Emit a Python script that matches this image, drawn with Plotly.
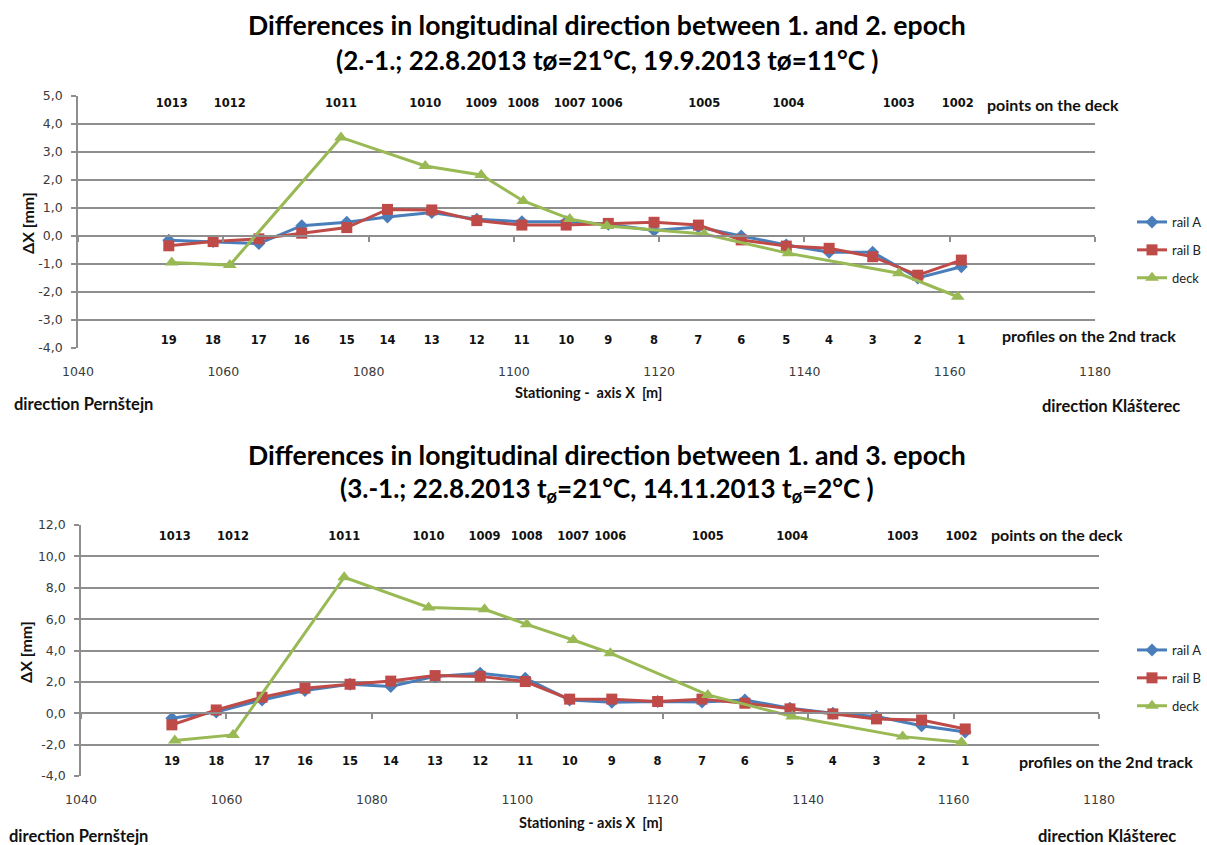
import plotly.graph_objects as go

W, H = 1207, 845

# ---------------- data ----------------
profile_labels = ["19", "18", "17", "16", "15", "14", "13", "12", "11", "10",
                  "9", "8", "7", "6", "5", "4", "3", "2", "1"]
profile_x = [1052.5, 1058.6, 1064.9, 1070.8, 1077.0, 1082.6, 1088.7, 1094.9,
             1101.1, 1107.2, 1113.0, 1119.3, 1125.4, 1131.3, 1137.5, 1143.4,
             1149.4, 1155.6, 1161.6]
deck_labels = ["1013", "1012", "1011", "1010", "1009", "1008", "1007", "1006",
               "1005", "1004", "1003", "1002"]
deck_x = [1052.9, 1060.9, 1076.2, 1087.8, 1095.5, 1101.3, 1107.7, 1112.8,
          1126.2, 1137.8, 1153.0, 1161.1]

# epoch 2 - epoch 1
e2_railA = [-0.15, -0.2, -0.27, 0.37, 0.49, 0.68, 0.84, 0.6, 0.51, 0.51,
            0.42, 0.2, 0.32, 0.0, -0.32, -0.58, -0.58, -1.5, -1.1]
e2_railB = [-0.35, -0.2, -0.1, 0.1, 0.3, 0.95, 0.93, 0.55, 0.39, 0.39,
            0.45, 0.49, 0.39, -0.14, -0.36, -0.44, -0.74, -1.4, -0.86]
e2_deck = [-0.95, -1.04, 3.52, 2.5, 2.18, 1.25, 0.61, 0.36, 0.07, -0.62,
           -1.33, -2.17]

# epoch 3 - epoch 1
e3_railA = [-0.32, 0.08, 0.85, 1.45, 1.85, 1.7, 2.35, 2.55, 2.23, 0.85,
            0.7, 0.75, 0.72, 0.85, 0.32, 0.0, -0.21, -0.8, -1.2]
e3_railB = [-0.74, 0.21, 1.02, 1.6, 1.85, 2.05, 2.4, 2.35, 2.02, 0.9,
            0.9, 0.75, 0.9, 0.64, 0.28, -0.04, -0.36, -0.43, -1.0]
e3_deck = [-1.74, -1.38, 8.67, 6.74, 6.63, 5.67, 4.67, 3.83, 1.17, -0.21,
           -1.49, -1.85]

x_tickvals = [1040, 1060, 1080, 1100, 1120, 1140, 1160, 1180]
x_ticktext = ["1040", "1060", "1080", "1100", "1120", "1140", "1160", "1180"]
y1_tickvals = [-4, -3, -2, -1, 0, 1, 2, 3, 4, 5]
y1_ticktext = ["-4,0", "-3,0", "-2,0", "-1,0", "0,0", "1,0", "2,0", "3,0", "4,0", "5,0"]
y2_tickvals = [-4, -2, 0, 2, 4, 6, 8, 10, 12]
y2_ticktext = ["-4,0", "-2,0", "0,0", "2,0", "4,0", "6,0", "8,0", "10,0", "12,0"]

title1 = ["Differences in longitudinal direction between 1. and 2. epoch",
          "(2.-1.; 22.8.2013 tø=21°C, 19.9.2013 tø=11°C )"]
title2 = ["Differences in longitudinal direction between 1. and 3. epoch",
          "(3.-1.; 22.8.2013 t<sub>ø</sub>=21°C, 14.11.2013 t<sub>ø</sub>=2°C )"]

# ---------------- style ----------------
C_A, C_B, C_D = "#4A7EBB", "#BE4B48", "#98B954"
GRID = "#8E8E8E"
TICKC = "#3a3a3a"
CAL = "Lato, Carlito, sans-serif"
VER = "DejaVu Sans, Verdana, sans-serif"


def px_x(p):
    return p / W


def px_y(p):
    return 1 - p / H


fig = go.Figure()

panels = [
    dict(xa="x", ya="y", xz="x3", leg="legend", A=e2_railA, B=e2_railB, D=e2_deck,
         ptop=4.7, pbot=-3.75),
    dict(xa="x2", ya="y2", xz="x4", leg="legend2", A=e3_railA, B=e3_railB, D=e3_deck,
         ptop=11.2, pbot=-3.1),
]

for p in panels:
    # helper (invisible) trace for the zero-line axis
    fig.add_trace(go.Scatter(x=profile_x, y=p["A"], xaxis=p["xz"], yaxis=p["ya"],
                             mode="lines", line=dict(width=0), opacity=0,
                             showlegend=False, hoverinfo="skip"))
    fig.add_trace(go.Scatter(x=profile_x, y=p["A"], xaxis=p["xa"], yaxis=p["ya"],
                             name="rail A", legend=p["leg"], legendgroup="a",
                             mode="lines+markers",
                             line=dict(color=C_A, width=3),
                             marker=dict(symbol="diamond", size=10, color=C_A)))
    fig.add_trace(go.Scatter(x=profile_x, y=p["B"], xaxis=p["xa"], yaxis=p["ya"],
                             name="rail B", legend=p["leg"], legendgroup="b",
                             mode="lines+markers",
                             line=dict(color=C_B, width=3),
                             marker=dict(symbol="square", size=11, color=C_B)))
    fig.add_trace(go.Scatter(x=deck_x, y=p["D"], xaxis=p["xa"], yaxis=p["ya"],
                             name="deck", legend=p["leg"], legendgroup="d",
                             mode="lines+markers",
                             line=dict(color=C_D, width=3),
                             marker=dict(symbol="triangle-up", size=12, color=C_D)))
    # point labels (deck) and profile labels (track)
    fig.add_trace(go.Scatter(x=deck_x, y=[p["ptop"]] * len(deck_x),
                             xaxis=p["xa"], yaxis=p["ya"], mode="text",
                             text=deck_labels, showlegend=False, hoverinfo="skip",
                             textfont=dict(family=VER, size=11.5, color="#111",
                                           weight="bold")))
    fig.add_trace(go.Scatter(x=profile_x, y=[p["pbot"]] * len(profile_x),
                             xaxis=p["xa"], yaxis=p["ya"], mode="text",
                             text=profile_labels, showlegend=False, hoverinfo="skip",
                             textfont=dict(family=VER, size=11.5, color="#111",
                                           weight="bold")))

# domains (pixel based)
dom = [
    dict(x0=78, x1=1095, y0=348, y1=96, ymin=-4, ymax=5),
    dict(x0=81, x1=1099, y0=776, y1=525, ymin=-4, ymax=12),
]

axis_common_x = dict(range=[1040, 1180], tickvals=x_tickvals, ticktext=x_ticktext,
                     showgrid=False, zeroline=False, showline=False, automargin=False,
                     ticks="outside", ticklen=12, tickcolor="rgba(0,0,0,0)",
                     tickfont=dict(family=VER, size=12.5, color=TICKC))


def yaxis_cfg(d, tv, tt):
    return dict(domain=[px_y(d["y0"]), px_y(d["y1"])], range=[d["ymin"], d["ymax"]],
                tickvals=tv, ticktext=tt, showgrid=True, gridcolor=GRID, gridwidth=1.5,
                zeroline=False, showline=True, linecolor=GRID, linewidth=1.5,
                ticks="outside", ticklen=5, tickcolor=GRID, tickwidth=1.5,
                ticklabelstandoff=6, automargin=False,
                tickfont=dict(family=VER, size=12.5, color=TICKC))


def zero_axis(d, over):
    yd0, yd1 = px_y(d["y0"]), px_y(d["y1"])
    pos = yd0 + (0 - d["ymin"]) / (d["ymax"] - d["ymin"]) * (yd1 - yd0)
    return dict(overlaying=over, anchor="free", position=pos, automargin=False,
                domain=[px_x(d["x0"]), px_x(d["x1"])],
                range=[1040, 1180], tickvals=x_tickvals, showticklabels=False,
                ticks="outside", ticklen=5, tickcolor=GRID, tickwidth=1.5,
                showline=True, linecolor=GRID, linewidth=1.5,
                showgrid=False, zeroline=False)


fig.update_layout(
    width=W, height=H, margin=dict(l=0, r=0, t=0, b=0, autoexpand=False),
    paper_bgcolor="white", plot_bgcolor="white",
    xaxis=dict(domain=[px_x(dom[0]["x0"]), px_x(dom[0]["x1"])], anchor="y", **axis_common_x),
    yaxis=dict(anchor="x", **yaxis_cfg(dom[0], y1_tickvals, y1_ticktext)),
    xaxis2=dict(domain=[px_x(dom[1]["x0"]), px_x(dom[1]["x1"])], anchor="y2", **axis_common_x),
    yaxis2=dict(anchor="x2", **yaxis_cfg(dom[1], y2_tickvals, y2_ticktext)),
    xaxis3=zero_axis(dom[0], "x"),
    xaxis4=zero_axis(dom[1], "x2"),
    legend=dict(x=1.0, y=px_y(207), xanchor="right", yanchor="top",
                font=dict(family=CAL, size=13, color="#222"),
                bgcolor="rgba(0,0,0,0)", tracegroupgap=8, itemwidth=30),
    legend2=dict(x=1.0, y=px_y(635), xanchor="right", yanchor="top",
                 font=dict(family=CAL, size=13, color="#222"),
                 bgcolor="rgba(0,0,0,0)", tracegroupgap=8, itemwidth=30),
    showlegend=True,
)

ann = []
# titles
for (lines, ys, sizes) in [(title1, (25, 60), (26.6, 26)), (title2, (455, 490), (26.6, 26))]:
    for t, yy, fs in zip(lines, ys, sizes):
        ann.append(dict(text=t, x=px_x(607), y=px_y(yy), xref="paper", yref="paper",
                        xanchor="center", yanchor="middle", showarrow=False,
                        font=dict(family=CAL, size=fs, color="#000", weight="bold")))
# axis titles and direction notes
side = [
    ("ΔX [mm]", 27, 223, -90, "center", 16),
    ("ΔX [mm]", 25, 652, -90, "center", 16),
    ("Stationing -&nbsp; axis X &nbsp;[m]", 588, 392, 0, "center", 14.5),
    ("Stationing - axis X &nbsp;[m]", 591, 822, 0, "center", 14.5),
    ("direction Pernštejn", 12, 404, 0, "left", 16.5),
    ("direction Pernštejn", 7, 836, 0, "left", 16.5),
    ("direction Klášterec", 1040, 406, 0, "left", 16.5),
    ("direction Klášterec", 1036, 836, 0, "left", 16.5),
]
for t, xx, yy, ang, xa, fs in side:
    ann.append(dict(text=t, x=px_x(xx), y=px_y(yy), xref="paper", yref="paper",
                    xanchor=xa, yanchor="middle", showarrow=False, textangle=ang,
                    font=dict(family=CAL, size=fs, color="#111", weight="bold")))
# row captions next to the label rows (in data coordinates)
for xr, yr, t, xv, yv in [("x", "y", "points on the deck", 1164.9, 4.7),
                          ("x", "y", "profiles on the 2nd track", 1166.9, -3.55),
                          ("x2", "y2", "points on the deck", 1164.9, 11.4),
                          ("x2", "y2", "profiles on the 2nd track", 1168.7, -3.1)]:
    ann.append(dict(text=t, x=xv, y=yv, xref=xr, yref=yr, xanchor="left",
                    yanchor="middle", showarrow=False,
                    font=dict(family=CAL, size=16, color="#111", weight="bold")))
fig.update_layout(annotations=ann)

fig.write_html("out.html", config={"displayModeBar": False},
               post_script="document.body.style.margin='0';document.body.style.padding='0';")
